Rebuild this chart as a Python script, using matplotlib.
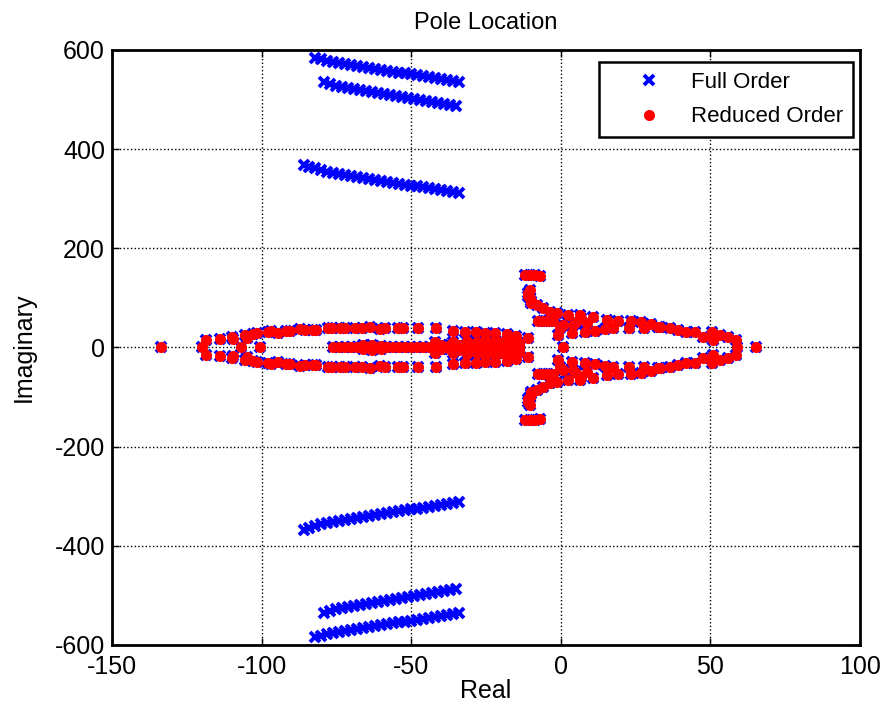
import numpy as np
import matplotlib
matplotlib.use('Agg')
import matplotlib.pyplot as plt

plt.rcParams['font.family'] = ['Liberation Sans', 'DejaVu Sans']
plt.rcParams['axes.unicode_minus'] = False

# high frequency branches of the full order model (upper half, conjugates mirrored)
branch_a_re = [-82, -80, -78, -76, -74, -72, -70, -68, -66, -64, -62, -60, -58, -56, -54, -52, -50, -48, -46, -44, -42, -40, -38, -36, -34]
branch_a_im = [584, 581, 578, 576, 574, 572, 570, 568, 566, 564, 562.5, 560.5, 558.5, 556.5, 554.5, 553, 551, 549, 547, 545, 543, 541, 539, 537, 535]
branch_b_re = [-79, -77, -75, -73, -71, -69, -67, -65, -63, -61, -59, -57, -55, -53, -51, -49, -47, -45, -43, -41, -39, -37, -35]
branch_b_im = [536, 532, 528, 525, 523, 521, 519, 517, 515, 513, 511, 509, 507, 505.5, 503.5, 501.5, 499.5, 497.5, 495.5, 493.5, 491.5, 489.5, 488]
branch_c_re = [-86, -84, -82, -80, -78, -76, -74, -72, -70, -68, -66, -64, -62, -60, -58, -56, -54, -52, -50, -48, -46, -44, -42, -40, -38, -36, -34]
branch_c_im = [369, 365, 361, 357, 354, 352, 350, 348, 346, 344, 342, 340, 338, 336, 334, 332, 330, 328, 326.5, 325, 323, 321, 319.5, 318, 316, 314, 312]

# low frequency poles (shared by full and reduced order), upper half
lobe_re = [-118.6, -114, -110, -109.5, -105.6, -105, -102.8, -101.7, -97.8, -96.7, -94.5, -91.7, -90.6, -87.2, -85.6,
           -82.8, -81.7, -77.8, -76.6, -73.9, -72.2, -68.9, -66.6, -63.8, -60.5, -58.8, -54.4, -52.7, -47.7, -41.8,
           -36.2, -32.1, -28.2, -25.4, -22, -18.1, -15, -10.9]
lobe_im = [15, 18, 21, 17, 25, 20, 28, 30, 32, 33, 29, 33, 33, 37, 35,
           35, 35, 40, 39, 40, 40, 40, 40, 41, 38, 40, 39, 40, 39, 39,
           33, 31, 32, 29, 29, 27, 23, 19]
inner_re = [-42, -36, -31.5, -28, -26, -24, -22, -20, -18, -16, -14,
            -40, -37, -34, -31, -28, -25, -22, -19, -16, -14, -66, -63, -60]
inner_im = [12, 12, 13, 11, 12, 11, 12, 11, 12, 10, 9,
            4, 4, 5, 4, 5, 4, 5, 4, 5, 4, 4, 5, 3]
right_re = [-12, -10.4, -8.7, -7, -10.4, -11, -10.9, -10.4, -10, -9.8, -8.1, -5.9, -3.7, -1.4, 2.4, 6.4, 10.8,
            15.3, 19.2, 23.4, 26.7, 30, 33.1, 36.4, 39.2, 42, 44.8, 47.6, 50.4, 50.9, 53.1, 55.9, 58.7,
            -7.6, -6, -4.3, -2.6,
            -0.9, -0.3, 0.8, 3.6, 4.1, 5.2, 6.9, 8, 8.6, 11.4, 14.7, 17.5, 22.8, 27.7, 32.5]
right_im = [146, 146, 146, 145, 116, 109, 104, 99, 94, 90, 86, 79, 72, 69, 66, 66, 61,
            56, 53, 53, 51, 47, 42, 39, 35, 32, 32, 22, 32, 15, 25, 22, 15,
            53, 53, 53, 53,
            25, 39, 45, 29, 45, 52, 59, 32, 49, 34, 37, 39, 39, 39, 42]
axis_re = [-133.5, -120, -107, -100.6, -76, -74, -72, -70, -68, -66, -64, -62, -60, -58, -56, -54, -52, -50,
           -48, -46, -44, -42, -40, -38, -36, -34, -32, -30, -28, -26, -24, -22, -20, -18, -16, -14,
           0.8, 58.9, 65.2]

hf_re = np.array(branch_a_re + branch_b_re + branch_c_re, dtype=float)
hf_im = np.array(branch_a_im + branch_b_im + branch_c_im, dtype=float)
lf_re = np.array(lobe_re + inner_re + right_re, dtype=float)
lf_im = np.array(lobe_im + inner_im + right_im, dtype=float)

red_re = np.concatenate([lf_re, lf_re, axis_re])
red_im = np.concatenate([lf_im, -lf_im, np.zeros(len(axis_re))])
full_re = np.concatenate([hf_re, hf_re, red_re])
full_im = np.concatenate([hf_im, -hf_im, red_im])

fig = plt.figure(figsize=(8.89, 7.13), dpi=100)
ax = fig.add_axes([0.126, 0.0954, 0.8414, 0.8345])

ax.plot(full_re, full_im, 'x', color='#0000ff', markersize=7, markeredgewidth=2.8, label='Full Order')
ax.plot(red_re, red_im, 'o', color='#ff0000', markersize=8, markeredgewidth=0, label='Reduced Order')

ax.set_xlim(-150, 100)
ax.set_ylim(-600, 600)
ax.set_xticks([-150, -100, -50, 0, 50, 100])
ax.set_yticks([-600, -400, -200, 0, 200, 400, 600])
ax.grid(True, linestyle=':', color='k', linewidth=1)
ax.tick_params(direction='in', top=True, right=True, labelsize=18, length=5, width=1)
ax.tick_params(axis='x', pad=7)
ax.tick_params(axis='y', pad=5)
for s in ax.spines.values():
    s.set_linewidth(2)

ax.set_title('Pole Location', fontsize=17, pad=15)
ax.set_xlabel('Real', fontsize=18, labelpad=0)
ax.set_ylabel('Imaginary', fontsize=18, labelpad=14)

leg = ax.legend(loc='upper right', bbox_to_anchor=(0.9906, 0.9798), borderaxespad=0,
                fancybox=False, framealpha=1, edgecolor='k', fontsize=16,
                handlelength=3.6, handletextpad=0.1, borderpad=0.45, labelspacing=0.6)
leg.get_frame().set_linewidth(1.8)

fig.savefig('out.png', dpi=100)
